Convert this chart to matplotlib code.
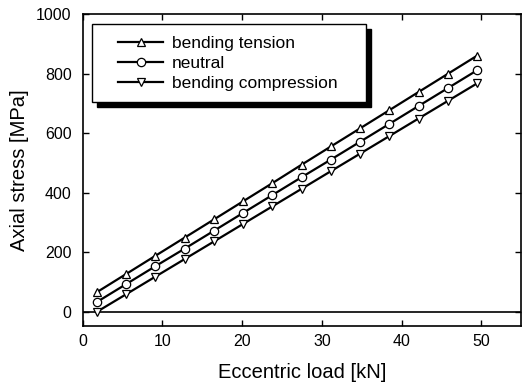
import matplotlib
matplotlib.use('Agg')
import matplotlib.pyplot as plt
from matplotlib.patches import Rectangle

plt.rcParams['font.family'] = ['Liberation Sans', 'DejaVu Sans']

load = [1.8, 5.47, 9.13, 12.8, 16.47, 20.13, 23.8, 27.47, 31.13, 34.8, 38.47, 42.13, 45.8, 49.47]
tension = [66, 127, 188, 249, 310, 371, 432, 494, 555, 616, 677, 738, 799, 860]
neutral = [33, 93, 153, 212, 272, 332, 392, 452, 511, 571, 631, 691, 751, 811]
compression = [0, 59, 118, 177, 236, 295, 354, 413, 472, 531, 590, 649, 708, 767]
labels = ["bending tension", "neutral", "bending compression"]

fig = plt.figure(figsize=(5.22, 3.86), dpi=100)
ax = fig.add_axes([0.1584, 0.1554, 0.9984 - 0.1584, 0.9637 - 0.1554])

style = dict(color='k', lw=1.6, mfc='white', mec='k', ms=6, mew=0.9)
ax.plot(load, tension, marker='^', label=labels[0], **style)
ax.plot(load, neutral, marker='o', label=labels[1], **style)
ax.plot(load, compression, marker='v', label=labels[2], **style)
ax.axhline(0, color='k', lw=1.2, zorder=1)

ax.set_xlim(0, 55)
ax.set_ylim(-48, 1000)
ax.set_xticks([0, 10, 20, 30, 40, 50])
ax.set_yticks([0, 200, 400, 600, 800, 1000])
ax.tick_params(direction='in', top=True, right=True, length=4, width=1, labelsize=11.5)
ax.tick_params(axis='x', pad=6)
ax.tick_params(axis='y', pad=8)
for s in ax.spines.values():
    s.set_linewidth(1.2)

ax.set_xlabel("Eccentric load [kN]", fontsize=14.5, labelpad=10)
ax.set_ylabel("Axial stress [MPa]", fontsize=14.5, labelpad=5)

# legend box with hard black shadow
ax.add_patch(Rectangle((0.021 + 0.0114, 0.718 - 0.016), 0.626, 0.25, transform=ax.transAxes,
                       fc='k', ec='k', lw=1, zorder=4))
ax.add_patch(Rectangle((0.021, 0.718), 0.626, 0.25, transform=ax.transAxes,
                       fc='white', ec='k', lw=1, zorder=5))
leg = ax.legend(loc='upper left', bbox_to_anchor=(0.0804, 0.93), fontsize=12.5,
                frameon=False, handlelength=2.6, handletextpad=0.5,
                labelspacing=0.27, borderpad=0, borderaxespad=0)
leg.set_zorder(6)

fig.savefig("out.png", dpi=100)
